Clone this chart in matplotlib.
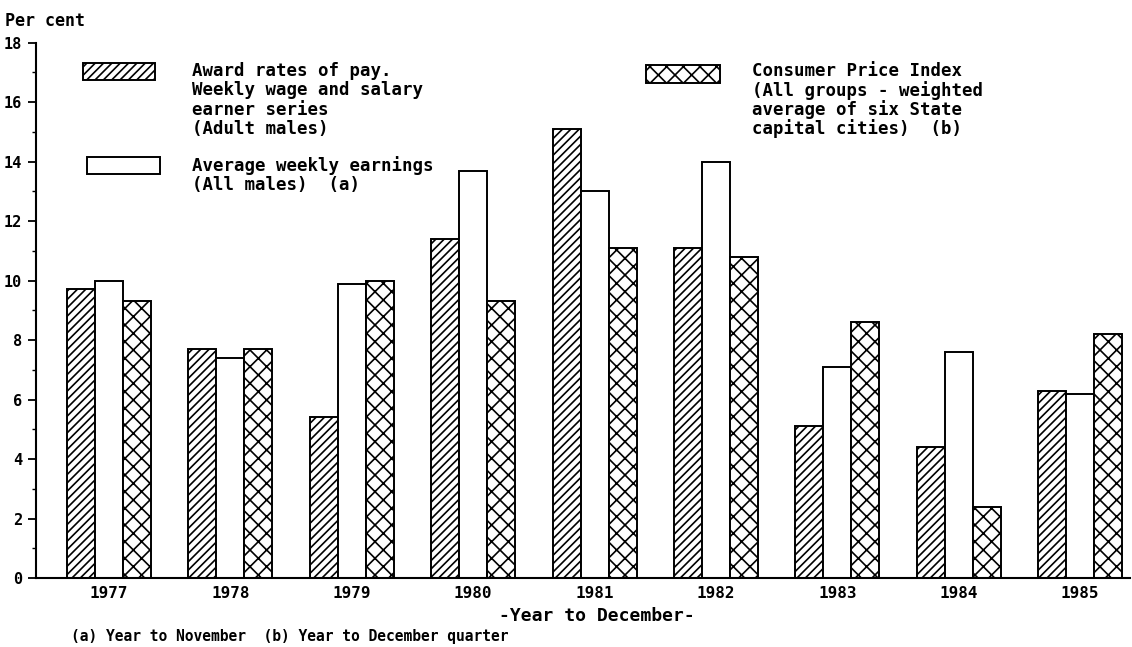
import numpy as np
import matplotlib
matplotlib.use('Agg')
from matplotlib import pyplot as plt
from matplotlib.patches import Rectangle

years = ['1977', '1978', '1979', '1980', '1981', '1982', '1983', '1984', '1985']
award_rates = [9.7, 7.7, 5.4, 11.4, 15.1, 11.1, 5.1, 4.4, 6.3]
weekly_earnings = [10.0, 7.4, 9.9, 13.7, 13.0, 14.0, 7.1, 7.6, 6.2]
cpi = [9.3, 7.7, 10.0, 9.3, 11.1, 10.8, 8.6, 2.4, 8.2]

award_label = ['Award rates of pay.', 'Weekly wage and salary', 'earner series', '(Adult males)']
awe_label = ['Average weekly earnings', '(All males)  (a)']
cpi_label = ['Consumer Price Index', '(All groups - weighted', 'average of six State',
             'capital cities)  (b)']

W, H = 1132, 647
plt.rcParams['font.family'] = 'DejaVu Sans Mono'
plt.rcParams['font.weight'] = 'bold'
plt.rcParams['hatch.linewidth'] = 1.2


def fx(px):
    return px / W


def fy(py):
    # py measured from the top of the picture
    return 1 - py / H


fig = plt.figure(figsize=(W / 100, H / 100), dpi=100)
ax = fig.add_axes([fx(36), fy(578), fx(1130 - 36), (578 - 42.6) / H])

x = np.arange(len(years))
w = 28 / 121.4
kw = dict(facecolor='white', edgecolor='black', linewidth=1.4)
ax.bar(x - w, award_rates, w, hatch='////', **kw)
ax.bar(x, weekly_earnings, w, **kw)
ax.bar(x + w, cpi, w, hatch='xx', **kw)

ax.set_xlim(-0.601, 8.41)
ax.set_ylim(0, 18)
ax.set_xticks(x)
ax.set_xticklabels(years, fontsize=11.5)
ax.tick_params(axis='x', length=0, pad=6)
ax.set_yticks(np.arange(0, 19, 2))
ax.set_yticks(np.arange(0, 19, 1), minor=True)
ax.tick_params(axis='y', which='major', length=6, width=1.3, pad=4, labelsize=11)
ax.tick_params(axis='y', which='minor', length=3, width=1.0)
for s in ['top', 'right']:
    ax.spines[s].set_visible(False)
for s in ['left', 'bottom']:
    ax.spines[s].set_linewidth(1.5)

# legend, drawn by hand like the original
fig.patches.append(Rectangle((fx(83), fy(80)), fx(72), 17 / H, transform=fig.transFigure,
                             facecolor='white', edgecolor='black', linewidth=1.4, hatch='////'))
fig.patches.append(Rectangle((fx(87), fy(174)), fx(73), 17 / H, transform=fig.transFigure,
                             facecolor='white', edgecolor='black', linewidth=1.4))
fig.patches.append(Rectangle((fx(646), fy(83)), fx(74), 18 / H, transform=fig.transFigure,
                             facecolor='white', edgecolor='black', linewidth=1.4, hatch='xx'))

for i, line in enumerate(award_label):
    fig.text(fx(192), fy(71 + 19.3 * i), line, fontsize=12.5, va='center')
for i, line in enumerate(awe_label):
    fig.text(fx(192), fy(166 + 19.3 * i), line, fontsize=12.5, va='center')
for i, line in enumerate(cpi_label):
    fig.text(fx(752), fy(71 + 19.3 * i), line, fontsize=12.5, va='center')

fig.text(fx(5), fy(21), 'Per cent', fontsize=12, va='center')
fig.text(fx(597), fy(616), '-Year to December-', fontsize=13, va='center', ha='center')
fig.text(fx(71), fy(636), '(a) Year to November  (b) Year to December quarter',
         fontsize=10.5, va='center')

fig.savefig('out.png', dpi=100)
